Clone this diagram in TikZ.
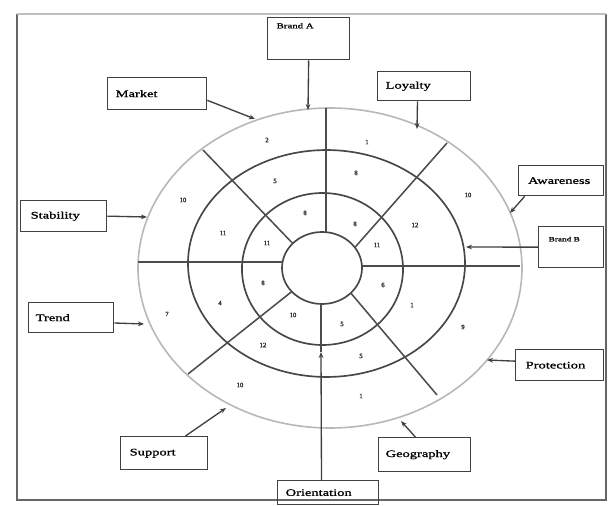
\documentclass[tikz,border=0pt]{standalone}
\usepackage{fontspec}
\setmainfont{Liberation Serif}
\newfontfamily\boxfont{Liberation Serif}[FakeStretch=1.45,FakeBold=1.2]
\newfontfamily\numfont{Liberation Serif}[FakeBold=1.5]
\usetikzlibrary{arrows.meta,shapes.geometric}
\begin{document}
\begin{tikzpicture}[x=0.75pt,y=-0.75pt,
  frame/.style={draw=black!60, line width=0.9pt},
  ring/.style={draw=black!72, line width=1.25pt},
  outerring/.style={draw=black!28, line width=1.2pt},
  spoke/.style={draw=black!70, line width=1.15pt},
  box/.style={draw=black!75, line width=1pt, anchor=north west, inner ysep=0pt, font=\boxfont\fontsize{7.5}{9}\selectfont},
  smallbox/.style={box, font=\boxfont\fontsize{5.6}{7}\selectfont},
  arr/.style={draw=black!75, line width=1pt, -{Stealth[length=4.5pt,width=3.5pt]}},
  num/.style={font=\numfont\fontsize{5}{6}\selectfont, text=black!85, inner sep=0pt}
]
\fill[white] (0,0) rectangle (608,506);
\useasboundingbox (0,0) rectangle (608,506);

% frame
\draw[frame] (606,14) -- (606,500) -- (17,500) -- (17,14);
\draw[draw=black!25, line width=0.9pt] (17,14) -- (606,14);

% rings
\draw[outerring] (330,268) ellipse [x radius=144pt, y radius=120pt];
\draw[ring] (326.5,263.5) ellipse [x radius=103.9pt, y radius=85.1pt];
\draw[ring] (322.5,269) ellipse [x radius=60.4pt, y radius=57pt];
\node[draw=black!72, line width=1.25pt, fill=white, ellipse, minimum width=60pt, minimum height=54pt, inner sep=0pt, outer sep=0pt] (core) at (322,268) {};

% spoke ends on the outer ring
\coordinate (sU) at (326,108);
\coordinate (sUL) at (203,150);
\coordinate (sUR) at (447,143);
\coordinate (sR) at (520,266);
\coordinate (sLR) at (437,395);
\coordinate (sLL) at (188,374);
\coordinate (sL) at (138,262);

\draw[spoke] (sU) -- (sU |- core.north);
\draw[spoke] (sUL) -- (core.140);
\draw[spoke] (sUR) -- (core.32);
\draw[spoke] (sR) -- (sR -| core.east);
\draw[spoke] (sLR) -- (core.-41);
\draw[spoke] (sLL) -- (core.218);
\draw[spoke] (sL) -- (sL -| core.west);

% numbers - outer ring
\node[num] (o1) at (267,140) {2};
\node[num] (o2) at (367,142) {1};
\node[num] (o3) at (468,195) {10};
\node[num] (o4) at (463,327) {9};
\node[num] (o5) at (361,396) {1};
\node[num] (o6) at (240,385) {10};
\node[num] (o7) at (167,314) {7};
\node[num] (o8) at (183,200) {10};
% numbers - middle ring
\node[num] (m1) at (275,181) {5};
\node[num] (m2) at (356,173) {8};
\node[num] (m3) at (415,225) {12};
\node[num] (m4) at (412,305) {1};
\node[num] (m5) at (361,356) {5};
\node[num] (m6) at (263,345) {12};
\node[num] (m7) at (220,303) {4};
\node[num] (m8) at (223,233) {11};
% numbers - inner ring
\node[num] (i1) at (305,213) {8};
\node[num] (i2) at (355,224) {8};
\node[num] (i3) at (377,245) {11};
\node[num] (i4) at (383,285) {6};
\node[num] (i5) at (342,324) {5};
\node[num] (i6) at (293,315) {10};
\node[num] (i7) at (263,283) {8};
\node[num] (i8) at (267,243) {11};

% boxes
\node[smallbox, inner xsep=6.75pt, text height=6pt, text depth=21.5pt, inner ysep=2pt] (BrandA) at (267,17) {\makebox[48pt][l]{Brand A}};
\node[box, inner xsep=6pt, minimum height=24pt] (Market) at (107,77) {\makebox[62.25pt][l]{Market}};
\node[box, inner xsep=6pt, minimum height=21.75pt] (Loyalty) at (377,71) {\makebox[57.75pt][l]{Loyalty}};
\node[box, inner xsep=7pt, minimum height=22.5pt] (Awareness) at (518,165) {\makebox[49.75pt][l]{Awareness}};
\node[box, font=\boxfont\fontsize{4.8}{6}\selectfont, inner xsep=7.5pt, text height=7pt, text depth=15.75pt, inner ysep=4pt] (BrandB) at (538,226) {\makebox[33.75pt][l]{Brand B}};
\node[box, inner xsep=7.5pt, minimum height=23.25pt] (Stability) at (20,200) {\makebox[49.5pt][l]{Stability}};
\node[box, inner xsep=5.25pt, minimum height=22.5pt] (Trend) at (28,302) {\makebox[53.25pt][l]{Trend}};
\node[box, inner xsep=7.5pt, minimum height=23.25pt] (Protection) at (515,349) {\makebox[51pt][l]{Protection}};
\node[box, inner xsep=6.75pt, minimum height=24.75pt] (Support) at (120,436) {\makebox[51.75pt][l]{Support}};
\node[box, inner xsep=5.25pt, minimum height=25.5pt] (Geography) at (378,437) {\makebox[58.5pt][l]{Geography}};
\node[box, inner xsep=6pt, minimum height=18pt] (Orientation) at (277,480) {\makebox[63.75pt][l]{Orientation}};

% arrow targets
\coordinate (tA) at (308,110);
\coordinate (tMk) at (255,119);
\coordinate (tLy) at (417,129);
\coordinate (tAw) at (510,213);
\coordinate (tBB) at (466,247);
\coordinate (tSt) at (147,217);
\coordinate (tTr) at (144,324);
\coordinate (tPr) at (487,360);
\coordinate (tSu) at (226,408);
\coordinate (tGe) at (401,421);
\coordinate (tOr) at (321,352);

\draw[arr] (BrandA.south) -- (tA);
\draw[arr] ([yshift=-5pt]Market.east) -- (tMk);
\draw[arr] ([xshift=-5pt]Loyalty.south) -- (tLy);
\draw[arr] ([xshift=5pt]Awareness.south west) -- (tAw);
\draw[arr] (BrandB.west) -- (tBB);
\draw[arr] (Stability.east) -- (tSt);
\draw[arr] ([yshift=-4pt]Trend.east) -- (tTr);
\draw[arr] ([yshift=3pt]Protection.west) -- (tPr);
\draw[arr] ([xshift=16pt]Support.north) -- (tSu);
\draw[arr] ([xshift=-7pt]Geography.north) -- (tGe);
\draw[arr] ([xshift=-5pt]Orientation.north) -- (tOr);
\draw[spoke] (tOr) -- (tOr |- core.south);
\end{tikzpicture}
\end{document}
